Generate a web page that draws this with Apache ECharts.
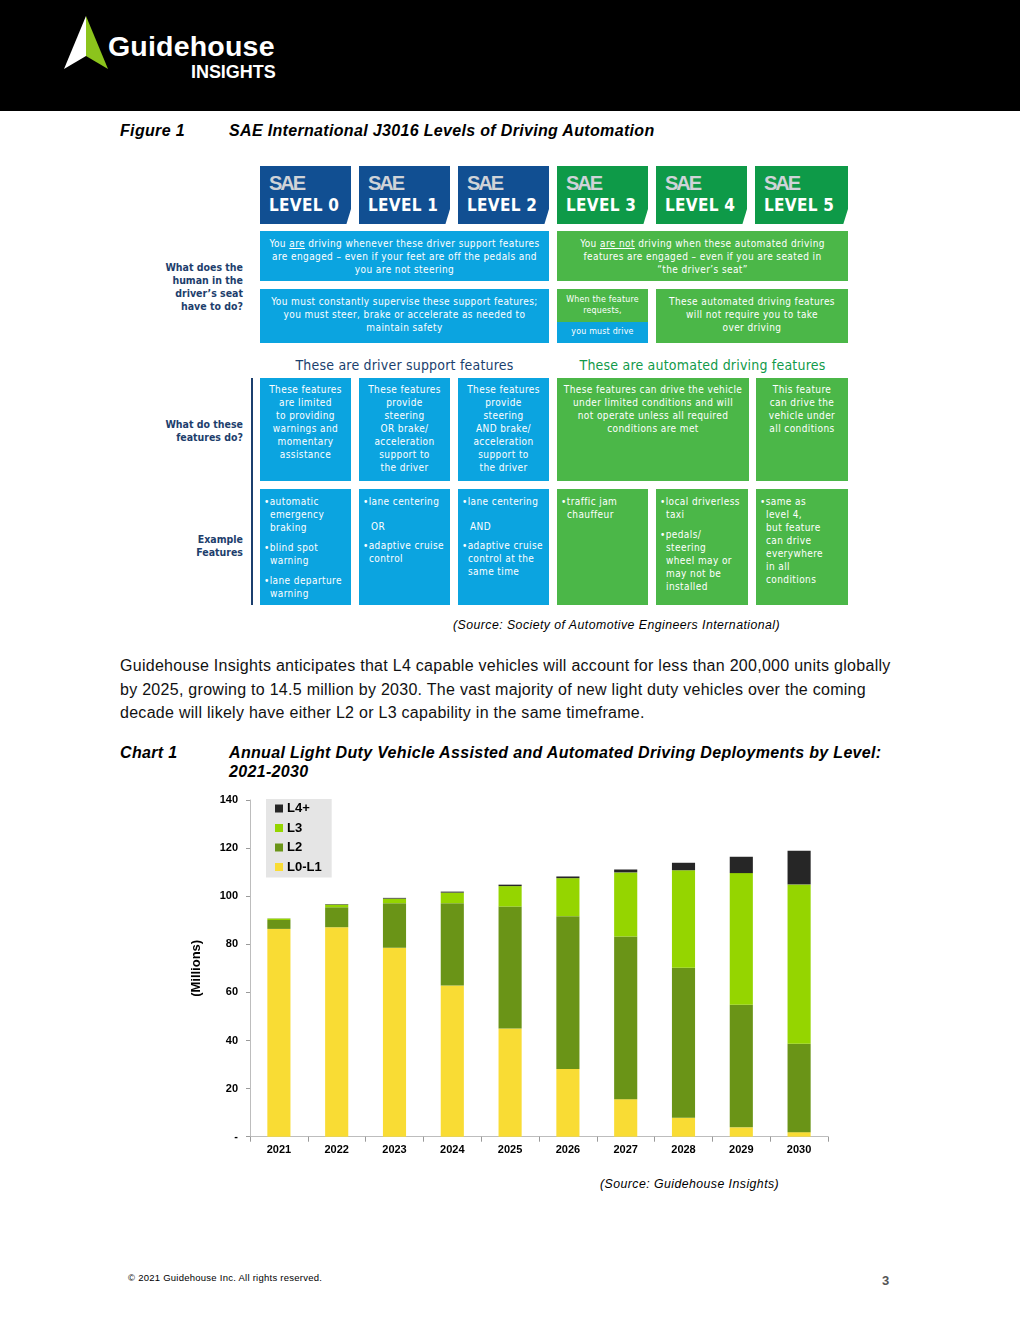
<!DOCTYPE html>
<html>
<head>
<meta charset="utf-8">
<script src="https://cdn.jsdelivr.net/npm/echarts@6/dist/echarts.min.js"></script>
<style>
html,body{margin:0;padding:0;width:1020px;height:1320px;overflow:hidden;background:#fff;font-family:"Liberation Sans",Arial,sans-serif;}
.abs{position:absolute;}
#header{left:0;top:0;width:1020px;height:111px;background:#000;}
.cell{position:absolute;color:#fff;font-family:"DejaVu Sans Condensed","Liberation Sans Narrow",sans-serif;font-size:10px;letter-spacing:0.4px;line-height:13px;box-sizing:border-box;white-space:nowrap;overflow:hidden;}
.c{text-align:center;}
.blue{background:#0ba4e0;}
.green{background:#4bb748;}
.hdr{position:absolute;top:166px;height:58px;width:91px;clip-path:polygon(0 0,100% 0,100% 74%,95% 100%,0 100%);}
.hdr .sae{position:absolute;left:9px;top:6px;font-family:"Liberation Sans",Arial,sans-serif;font-weight:bold;font-size:20px;color:#cfd3d8;letter-spacing:-2px;}
.hdr .lv{position:absolute;left:9px;top:29px;font-family:"DejaVu Sans Condensed",sans-serif;font-weight:bold;font-size:17px;color:#fff;letter-spacing:0.3px;}
.lab{position:absolute;text-align:right;color:#1d3e6c;font-weight:bold;font-size:10.5px;line-height:13px;font-family:"DejaVu Sans Condensed",sans-serif;}
.lst p{margin:0 0 7px 0;}
.lst .in{padding-left:6px;}
.ttl{font-weight:bold;font-style:italic;font-size:16px;line-height:19px;letter-spacing:0.33px;white-space:nowrap;}
.src{font-style:italic;font-size:12.3px;line-height:15px;letter-spacing:0.45px;white-space:nowrap;}
</style>
</head>
<body>
<div id="header" class="abs"></div>
<svg class="abs" style="left:0;top:0" width="120" height="100">
  <polygon points="86,16 64,69 86,56" fill="#ffffff"/>
  <polygon points="86,16 108,69 86,56" fill="#8cc41c"/>
</svg>
<div class="abs" style="left:108px;top:29px;font-weight:bold;font-size:28.5px;color:#fff;letter-spacing:0.2px;line-height:34px;">Guidehouse</div>
<div class="abs" style="left:191px;top:61px;font-weight:bold;font-size:18px;color:#fff;letter-spacing:-0.05px;line-height:22px;">INSIGHTS</div>

<div class="abs ttl" style="left:120px;top:121px;">Figure 1</div>
<div class="abs ttl" style="left:229px;top:121px;">SAE International J3016 Levels of Driving Automation</div>

<!-- level headers -->
<div class="hdr" style="left:260px;background:#114f92"><div class="sae">SAE</div><div class="lv">LEVEL 0</div></div>
<div class="hdr" style="left:359px;background:#114f92"><div class="sae">SAE</div><div class="lv">LEVEL 1</div></div>
<div class="hdr" style="left:458px;background:#114f92"><div class="sae">SAE</div><div class="lv">LEVEL 2</div></div>
<div class="hdr" style="left:557px;background:#0e9a48"><div class="sae">SAE</div><div class="lv">LEVEL 3</div></div>
<div class="hdr" style="left:656px;background:#0e9a48"><div class="sae">SAE</div><div class="lv">LEVEL 4</div></div>
<div class="hdr" style="left:755px;width:93px;background:#0e9a48"><div class="sae">SAE</div><div class="lv">LEVEL 5</div></div>

<!-- row 2 -->
<div class="cell blue c" style="left:260px;top:231px;width:289px;height:50px;padding-top:6px;">You <u>are</u> driving whenever these driver support features<br>are engaged – even if your feet are off the pedals and<br>you are not steering</div>
<div class="cell green c" style="left:557px;top:231px;width:291px;height:50px;padding-top:6px;">You <u>are not</u> driving when these automated driving<br>features are engaged – even if you are seated in<br>“the driver’s seat”</div>
<!-- row 3 -->
<div class="cell blue c" style="left:260px;top:289px;width:289px;height:54px;padding-top:6px;">You must constantly supervise these support features;<br>you must steer, brake or accelerate as needed to<br>maintain safety</div>
<div class="cell green c" style="left:557px;top:289px;width:91px;height:33px;padding-top:5px;font-size:8.8px;letter-spacing:0.2px;line-height:11px;">When the feature<br>requests,</div>
<div class="cell blue c" style="left:557px;top:322px;width:91px;height:21px;padding-top:4px;font-size:8.8px;letter-spacing:0.2px;line-height:11px;">you must drive</div>
<div class="cell green c" style="left:656px;top:289px;width:192px;height:54px;padding-top:6px;">These automated driving features<br>will not require you to take<br>over driving</div>

<div class="abs" style="left:260px;top:356px;width:289px;text-align:center;color:#1b3f6e;font-family:'DejaVu Sans Condensed',sans-serif;font-size:14px;letter-spacing:0.2px;line-height:18px;">These are driver support features</div>
<div class="abs" style="left:557px;top:356px;width:291px;text-align:center;color:#119a4a;font-family:'DejaVu Sans Condensed',sans-serif;font-size:14px;letter-spacing:0.2px;line-height:18px;">These are automated driving features</div>

<!-- row 4 -->
<div class="cell blue c" style="left:260px;top:378px;width:91px;height:103px;padding-top:5px;">These features<br>are limited<br>to providing<br>warnings and<br>momentary<br>assistance</div>
<div class="cell blue c" style="left:359px;top:378px;width:91px;height:103px;padding-top:5px;">These features<br>provide<br>steering<br>OR brake/<br>acceleration<br>support to<br>the driver</div>
<div class="cell blue c" style="left:458px;top:378px;width:91px;height:103px;padding-top:5px;">These features<br>provide<br>steering<br>AND brake/<br>acceleration<br>support to<br>the driver</div>
<div class="cell green c" style="left:557px;top:378px;width:192px;height:103px;padding-top:5px;">These features can drive the vehicle<br>under limited conditions and will<br>not operate unless all required<br>conditions are met</div>
<div class="cell green c" style="left:756px;top:378px;width:92px;height:103px;padding-top:5px;">This feature<br>can drive the<br>vehicle under<br>all conditions</div>

<!-- row 5 -->
<div class="cell blue lst" style="left:260px;top:489px;width:91px;height:116px;padding:6px 0 0 4px;"><p>•automatic<br><span class="in">emergency</span><br><span class="in">braking</span></p><p>•blind spot<br><span class="in">warning</span></p><p>•lane departure<br><span class="in">warning</span></p></div>
<div class="cell blue lst" style="left:359px;top:489px;width:91px;height:116px;padding:6px 0 0 4px;"><p>•lane centering</p><p style="margin:12px 0 6px 0;padding-left:8px;">OR</p><p>•adaptive cruise<br><span class="in">control</span></p></div>
<div class="cell blue lst" style="left:458px;top:489px;width:91px;height:116px;padding:6px 0 0 4px;"><p>•lane centering</p><p style="margin:12px 0 6px 0;padding-left:8px;">AND</p><p>•adaptive cruise<br><span class="in">control at the</span><br><span class="in">same time</span></p></div>
<div class="cell green lst" style="left:557px;top:489px;width:91px;height:116px;padding:6px 0 0 4px;"><p>•traffic jam<br><span class="in">chauffeur</span></p></div>
<div class="cell green lst" style="left:656px;top:489px;width:92px;height:116px;padding:6px 0 0 4px;"><p>•local driverless<br><span class="in">taxi</span></p><p>•pedals/<br><span class="in">steering</span><br><span class="in">wheel may or</span><br><span class="in">may not be</span><br><span class="in">installed</span></p></div>
<div class="cell green lst" style="left:756px;top:489px;width:92px;height:116px;padding:6px 0 0 4px;"><p>•same as<br><span class="in">level 4,</span><br><span class="in">but feature</span><br><span class="in">can drive</span><br><span class="in">everywhere</span><br><span class="in">in all</span><br><span class="in">conditions</span></p></div>

<div class="abs" style="left:251px;top:378px;width:1.5px;height:227px;background:#1b3f6e;"></div>

<div class="lab" style="left:140px;top:261px;width:103px;">What does the<br>human in the<br>driver’s seat<br>have to do?</div>
<div class="lab" style="left:140px;top:418px;width:103px;">What do these<br>features do?</div>
<div class="lab" style="left:140px;top:533px;width:103px;">Example<br>Features</div>

<div class="abs src" style="left:453px;top:618px;">(Source: Society of Automotive Engineers International)</div>

<div class="abs" style="left:120px;top:654px;font-size:16px;line-height:23.5px;letter-spacing:0.28px;color:#111;white-space:nowrap;">Guidehouse Insights anticipates that L4 capable vehicles will account for less than 200,000 units globally<br>by 2025, growing to 14.5 million by 2030. The vast majority of new light duty vehicles over the coming<br>decade will likely have either L2 or L3 capability in the same timeframe.</div>

<div class="abs ttl" style="left:120px;top:743px;">Chart 1</div>
<div class="abs ttl" style="left:229px;top:743px;">Annual Light Duty Vehicle Assisted and Automated Driving Deployments by Level:<br>2021-2030</div>

<div id="chart" class="abs" style="left:180px;top:790px;width:660px;height:380px;"></div>

<div class="abs src" style="left:600px;top:1177px;">(Source: Guidehouse Insights)</div>

<div class="abs" style="left:128px;top:1272px;font-size:9.5px;line-height:12px;letter-spacing:0.25px;">© 2021 Guidehouse Inc. All rights reserved.</div>
<div class="abs" style="left:882px;top:1273px;font-weight:bold;font-size:13px;line-height:16px;color:#555;">3</div>

<script>
var years = ['2021','2022','2023','2024','2025','2026','2027','2028','2029','2030'];
var yTicks = [0,20,40,60,80,100,120,140];
var seriesNames = ['L0-L1','L2','L3','L4+'];
var l01 = [86.4, 87.1, 78.6, 62.9, 45.0, 28.2, 15.6, 7.9, 3.9, 1.9];
var l2  = [3.7, 8.3, 18.5, 34.2, 50.7, 63.5, 67.6, 62.4, 51.0, 36.7];
var l3  = [0.6, 1.1, 1.9, 4.4, 8.5, 15.8, 26.7, 40.5, 54.7, 66.3];
var l4  = [0.05, 0.2, 0.3, 0.4, 0.6, 0.7, 1.2, 3.1, 6.8, 14.0];
var colors = ['#f9dc34','#6a9417','#95d500','#262626'];

var chart = echarts.init(document.getElementById('chart'));
var dataSets = [l01, l2, l3, l4];
var series = seriesNames.map(function(n,i){
  return {name:n,type:'bar',stack:'total',data:dataSets[i],barCategoryGap:'60%',
    itemStyle:{color:colors[i]}, emphasis:{disabled:true}};
});
chart.setOption({
  animation:false,
  grid:{left:70,right:12,top:10,bottom:33.3,containLabel:false},
  legend:{
    data:['L4+','L3','L2','L0-L1'], orient:'vertical', left:86, top:9,
    backgroundColor:'#e5e5e5', padding:[3,10,4,9], itemGap:6.5,
    itemWidth:8, itemHeight:8, icon:'rect',
    textStyle:{fontWeight:'bold',fontSize:13,color:'#000',fontFamily:'Liberation Sans, Arial',padding:[0,0,0,-1]},
    selectedMode:false
  },
  xAxis:{type:'category',data:years,
    axisLine:{lineStyle:{color:'#bdbdbd',width:1}},
    axisTick:{show:true,length:5,lineStyle:{color:'#9a9a9a'}},
    axisLabel:{fontWeight:'bold',fontSize:11,color:'#000',margin:8,fontFamily:'Liberation Sans, Arial'}
  },
  yAxis:{type:'value',min:0,max:140,interval:20,
    name:'(Millions)',nameLocation:'middle',nameRotate:90,nameGap:47,
    nameTextStyle:{fontWeight:'bold',fontSize:13,color:'#000',fontFamily:'Liberation Sans, Arial'},
    axisLine:{show:true,lineStyle:{color:'#bdbdbd'}},
    axisTick:{show:true,length:4,lineStyle:{color:'#9a9a9a'}},
    splitLine:{show:false},
    axisLabel:{fontWeight:'bold',fontSize:11,color:'#000',margin:12,fontFamily:'Liberation Sans, Arial',
      formatter:function(v){return yTicks.indexOf(v)===0?'-':String(v);}}
  },
  series:series
});
</script>
</body>
</html>
